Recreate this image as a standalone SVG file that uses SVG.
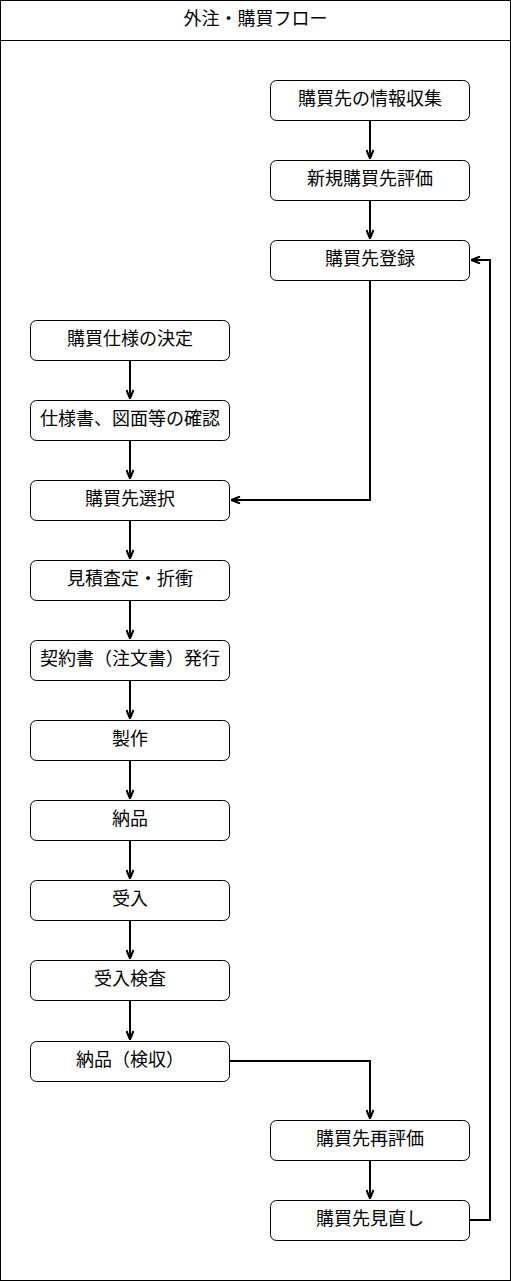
<svg xmlns="http://www.w3.org/2000/svg" width="511" height="1281" viewBox="0 0 511 1281">
<style>
.frame{fill:#fff;stroke:#000;stroke-width:1}
.box{fill:#fff;stroke:#000;stroke-width:1}
.lbl{font-family:"Noto Sans CJK JP","Noto Sans CJK SC",sans-serif;font-size:18px;fill:#000;text-anchor:middle}
.edge{fill:none;stroke:#000;stroke-width:2;stroke-linejoin:miter}
</style>
<defs>
<marker id="arr" viewBox="0 0 10 8" refX="10" refY="4" markerWidth="10" markerHeight="8" markerUnits="userSpaceOnUse" orient="auto">
<path d="M1,0.5 L9.5,4 L1,7.5" fill="none" stroke="#000" stroke-width="2"/>
</marker>
</defs>
<g id="frame">
<rect class="frame" x="0.5" y="0.5" width="510" height="1280"/>
<line x1="0.5" y1="40.5" x2="510.5" y2="40.5" stroke="#000" stroke-width="1"/>
<text class="lbl" x="255.5" y="25">外注・購買フロー</text>
</g>
<g id="connectors">
<path class="edge" d="M370,120 V159" marker-end="url(#arr)"/>
<path class="edge" d="M370,200 V239" marker-end="url(#arr)"/>
<path class="edge" d="M370,280 V500 H231" marker-end="url(#arr)"/>
<path class="edge" d="M130,360 V399" marker-end="url(#arr)"/>
<path class="edge" d="M130,440 V479" marker-end="url(#arr)"/>
<path class="edge" d="M130,520 V559" marker-end="url(#arr)"/>
<path class="edge" d="M130,600 V639" marker-end="url(#arr)"/>
<path class="edge" d="M130,680 V719" marker-end="url(#arr)"/>
<path class="edge" d="M130,760 V799" marker-end="url(#arr)"/>
<path class="edge" d="M130,840 V879" marker-end="url(#arr)"/>
<path class="edge" d="M130,920 V959" marker-end="url(#arr)"/>
<path class="edge" d="M130,1000 V1040" marker-end="url(#arr)"/>
<path class="edge" d="M230,1061 H370 V1119" marker-end="url(#arr)"/>
<path class="edge" d="M370,1160 V1199" marker-end="url(#arr)"/>
<path class="edge" d="M470,1220 H490 V260 H471" marker-end="url(#arr)"/>
</g>
<g id="n1"><rect class="box" x="270.5" y="80.5" width="199" height="40" rx="6"/><text class="lbl" x="370" y="105">購買先の情報収集</text></g>
<g id="n2"><rect class="box" x="270.5" y="160.5" width="199" height="40" rx="6"/><text class="lbl" x="370" y="185">新規購買先評価</text></g>
<g id="n3"><rect class="box" x="270.5" y="240.5" width="199" height="40" rx="6"/><text class="lbl" x="370" y="265">購買先登録</text></g>
<g id="n4"><rect class="box" x="30.5" y="320.5" width="199" height="40" rx="6"/><text class="lbl" x="130" y="345">購買仕様の決定</text></g>
<g id="n5"><rect class="box" x="30.5" y="400.5" width="199" height="40" rx="6"/><text class="lbl" x="130" y="425">仕様書、図面等の確認</text></g>
<g id="n6"><rect class="box" x="30.5" y="480.5" width="199" height="40" rx="6"/><text class="lbl" x="130" y="505">購買先選択</text></g>
<g id="n7"><rect class="box" x="30.5" y="560.5" width="199" height="40" rx="6"/><text class="lbl" x="130" y="585">見積査定・折衝</text></g>
<g id="n8"><rect class="box" x="30.5" y="640.5" width="199" height="40" rx="6"/><text class="lbl" x="130" y="665">契約書（注文書）発行</text></g>
<g id="n9"><rect class="box" x="30.5" y="720.5" width="199" height="40" rx="6"/><text class="lbl" x="130" y="745">製作</text></g>
<g id="n10"><rect class="box" x="30.5" y="800.5" width="199" height="40" rx="6"/><text class="lbl" x="130" y="825">納品</text></g>
<g id="n11"><rect class="box" x="30.5" y="880.5" width="199" height="40" rx="6"/><text class="lbl" x="130" y="905">受入</text></g>
<g id="n12"><rect class="box" x="30.5" y="960.5" width="199" height="40" rx="6"/><text class="lbl" x="130" y="985">受入検査</text></g>
<g id="n13"><rect class="box" x="30.5" y="1041.5" width="199" height="40" rx="6"/><text class="lbl" x="130" y="1066">納品（検収）</text></g>
<g id="n14"><rect class="box" x="270.5" y="1120.5" width="199" height="40" rx="6"/><text class="lbl" x="370" y="1145">購買先再評価</text></g>
<g id="n15"><rect class="box" x="270.5" y="1200.5" width="199" height="40" rx="6"/><text class="lbl" x="370" y="1225">購買先見直し</text></g>
</svg>
